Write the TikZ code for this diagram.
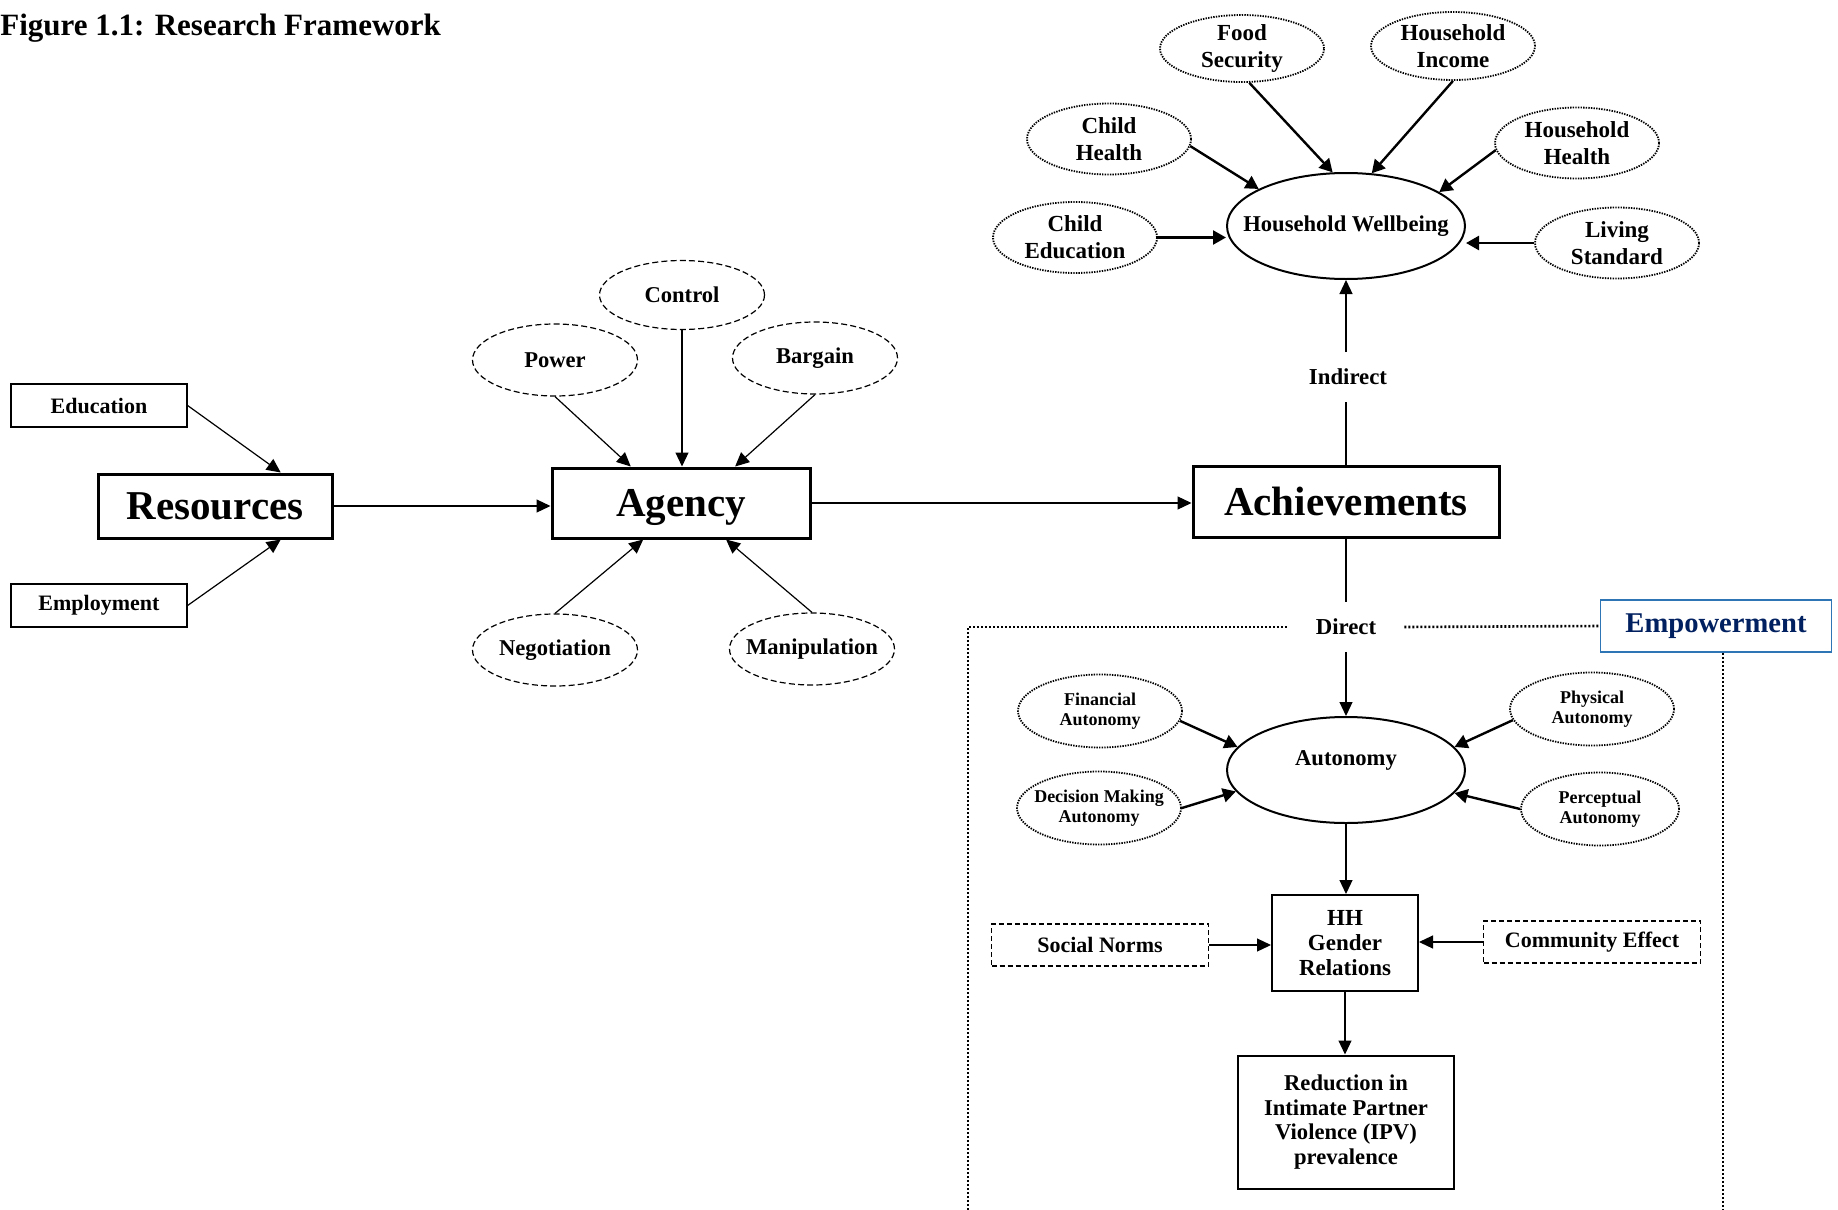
\documentclass[tikz,border=0pt]{standalone}
\usepackage{fontspec}
\setmainfont{Liberation Serif}
\usepackage{tikz}
\usetikzlibrary{shapes.geometric,arrows.meta,calc}
\definecolor{FrameBlack}{HTML}{000000}
\definecolor{FrameWhite}{HTML}{ffffff}
\definecolor{EmpowerBorder}{HTML}{2E75B6}
\definecolor{EmpowerText}{HTML}{002060}
\tikzset{
    % Base node style
    basenode/.style={
        draw=FrameBlack,
        fill=FrameWhite,
        line width=0.6pt,
        inner sep=0pt,
        align=center,
        font=\fontsize{11.3}{12.4}\selectfont\bfseries
    },
    % Input boxes (Education, Employment)
    inputbox/.style={
        basenode,
        minimum width=88pt,
        minimum height=21.5pt,
        font=\fontsize{11}{13}\selectfont\bfseries
    },
    % Main stage boxes
    stagenode/.style={
        basenode,
        line width=1.5pt,
        minimum height=35pt,
        text depth=0pt,
        font=\fontsize{20.5}{24}\selectfont\bfseries
    },
    % Ellipse base (text may run past the border box)
    ellipsenode/.style={
        basenode,
        ellipse,
        inner xsep=-10pt,
        inner ysep=-3pt
    },
    % Agency factor (dashed ellipse)
    agencyfactor/.style={
        ellipsenode,
        dash pattern=on 3pt off 1.6pt,
        minimum width=82.5pt,
        minimum height=36pt
    },
    % Wellbeing factor (dotted ellipse)
    wellfactor/.style={
        ellipsenode,
        line width=0.9pt,
        dash pattern=on 0.7pt off 0.6pt,
        minimum width=82pt,
        minimum height=35.5pt,
        font=\fontsize{11.5}{13.5}\selectfont\bfseries
    },
    % Autonomy factor (dotted ellipse, small text)
    autofactor/.style={
        wellfactor,
        minimum height=36.5pt,
        font=\fontsize{9}{10.2}\selectfont\bfseries
    },
    % Hub ellipse
    hubnode/.style={
        ellipsenode,
        line width=1pt,
        minimum width=119pt,
        minimum height=53pt
    },
    % Outcome box
    outcomebox/.style={
        basenode,
        line width=1pt
    },
    % Context box (dashed)
    contextbox/.style={
        basenode,
        dash pattern=on 2.5pt off 1.5pt,
        minimum width=108.5pt,
        minimum height=21pt,
        font=\fontsize{11}{13}\selectfont\bfseries
    },
    % Path label
    pathlabel/.style={
        inner sep=0pt,
        minimum width=58pt,
        minimum height=24.5pt,
        font=\fontsize{11.4}{13}\selectfont\bfseries
    },
    % Arrow styles
    myarrow/.style={
        -{Triangle[length=7pt,width=6.5pt]},
        line width=0.6pt,
        draw=FrameBlack
    },
    thickarrow/.style={
        -{Triangle[length=6.5pt,width=7pt]},
        line width=1.2pt,
        draw=FrameBlack
    },
    plainline/.style={
        line width=0.6pt,
        draw=FrameBlack
    },
    framedots/.style={
        line width=1.3pt,
        dash pattern=on 1pt off 1pt,
        draw=FrameBlack
    }
}
\begin{document}
\begin{tikzpicture}[x=0.5pt, y=-0.5pt]
    \useasboundingbox (0,0) rectangle (1838,1210);

    \node[anchor=base west, inner sep=0pt, font=\fontsize{15.5}{18}\selectfont\bfseries] (title) at (0,35) {Figure 1.1: Research Framework};

    % Resources
    \node[inputbox] (edu) at (99,405.5) {Education};
    \node[inputbox] (empl) at (99,605.5) {Employment};
    \node[stagenode, minimum width=117pt, minimum height=32pt] (res) at (215,506) {Resources};

    % Agency
    \node[stagenode, minimum width=129pt] (agency) at (681,503) {Agency};
    \node[agencyfactor] (power) at (555,360) {Power};
    \node[agencyfactor, minimum height=34.5pt] (control) at (682,295) {Control};
    \node[agencyfactor] (bargain) at (815,358) {Bargain};
    \node[agencyfactor] (nego) at (555,650) {Negotiation};
    \node[agencyfactor] (manip) at (812,649) {Manipulation};

    % Achievements
    \node[stagenode, minimum width=153pt, minimum height=35.5pt] (ach) at (1346,501.5) {Achievements};
    \node[pathlabel] (indirect) at (1348,377) {Indirect};
    \node[pathlabel] (direct) at (1346,627) {Direct};

    % Household wellbeing
    \node[hubnode] (hw) at (1346,226) {Household Wellbeing};
    \node[wellfactor, minimum height=33.5pt] (food) at (1242,48.5) {Food\\Security};
    \node[wellfactor, minimum height=34pt] (hhincome) at (1453,46) {Household\\Income};
    \node[wellfactor] (chealth) at (1109,139) {Child\\Health};
    \node[wellfactor] (hhhealth) at (1577,143) {Household\\Health};
    \node[wellfactor] (cedu) at (1075,237.5) {Child\\Education};
    \node[wellfactor] (living) at (1617,243) {Living\\Standard};

    % Empowerment
    \node[basenode, draw=EmpowerBorder, text=EmpowerText, line width=0.75pt, minimum width=115.5pt, minimum height=26pt, font=\fontsize{14.3}{16}\selectfont\bfseries] (emp) at (1716,626) {Empowerment};
    \node[hubnode, text depth=12pt] (aut) at (1346,770) {Autonomy};
    \node[autofactor] (fin) at (1100,711) {Financial\\Autonomy};
    \node[autofactor] (phys) at (1592,709) {Physical\\Autonomy};
    \node[autofactor] (dec) at (1099,808) {Decision Making\\Autonomy};
    \node[autofactor, minimum width=79pt] (perc) at (1600,809) {Perceptual\\Autonomy};
    \node[outcomebox, minimum width=73pt, minimum height=48pt, font=\fontsize{11.5}{12.5}\selectfont\bfseries] (hh) at (1345,943) {HH\\Gender\\Relations};
    \node[contextbox] (social) at (1100,945) {Social Norms};
    \node[contextbox] (community) at (1592,942) {Community Effect};
    \node[outcomebox, minimum width=108pt, minimum height=66.5pt] (ipv) at (1346,1122) {Reduction in\\Intimate Partner\\Violence (IPV)\\prevalence};

    \coordinate (frameTL) at (968,627);
    \coordinate (frameBL) at (968,1210);
    \coordinate (frameBR) at (1723,1210);

    % connectors
    \draw[myarrow] (edu.east) -- (res.27);
    \draw[myarrow] (empl.east) -- (res.-27);
    \draw[myarrow] (res.east) -- (res.east -| agency.west);
    \draw[myarrow] (power.south) -- (agency.144);
    \draw[myarrow] (control.south) -- (control.south |- agency.north);
    \draw[myarrow] (bargain.south) -- (agency.34);
    \draw[myarrow] (nego.north) -- (agency.224);
    \draw[myarrow] (manip.north) -- (agency.-39);
    \draw[myarrow] (agency.east) -- (agency.east -| ach.west);

    \draw[plainline] (ach.north) -- (ach.north |- indirect.south);
    \draw[myarrow] (ach.north |- indirect.north) -- (hw.south);
    \draw[plainline] (ach.south) -- (direct.north);
    \draw[myarrow] (direct.south) -- (aut.north);

    \draw[thickarrow] (food.-78) -- (hw.104);
    \draw[thickarrow] (hhincome.south) -- (hw.64);
    \draw[thickarrow] (chealth.-5) -- (hw.157);
    \draw[thickarrow] (hhhealth.185) -- (hw.20);
    \draw[thickarrow] (cedu.east) -- (cedu.east -| hw.west);
    \draw[thickarrow] (living.west) -- (living.west -| hw.east);

    \draw[thickarrow] (fin.-7) -- (aut.168);
    \draw[thickarrow] (phys.188) -- (aut.12);
    \draw[thickarrow] (dec.east) -- (aut.191);
    \draw[thickarrow] (perc.west) -- (aut.-12);

    \draw[myarrow] (aut.south) -- (aut.south |- hh.north);
    \draw[myarrow] (social.east) -- (social.east -| hh.west);
    \draw[myarrow] (community.west) -- (community.west -| hh.east);
    \draw[myarrow] (hh.south) -- (hh.south |- ipv.north);

    % empowerment frame
    \draw[framedots] (frameBL) -- (frameTL) -- (direct.west);
    \draw[framedots] (direct.east) -- (emp.west);
    \draw[framedots] (emp.south -| frameBR) -- (frameBR);
\end{tikzpicture}
\end{document}
